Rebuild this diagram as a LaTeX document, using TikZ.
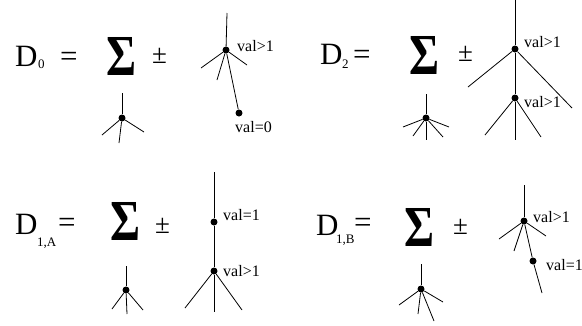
\documentclass[tikz,border=0pt]{standalone}
\usepackage{fontspec}
\setmainfont{Liberation Serif}
\usepackage{graphicx}
\usetikzlibrary{positioning}

\begin{document}
\begin{tikzpicture}[
  x=1pt, y=-1pt,
  lhs/.style={anchor=base west, inner sep=0pt, font=\fontsize{31}{31}\selectfont},
  pm/.style={anchor=base west, inner sep=0pt, font=\fontsize{27}{27}\selectfont},
  sub/.style={anchor=base west, inner sep=0pt, font=\fontsize{13}{13}\selectfont},
  bigsum/.style={inner sep=0pt},
  lbl/.style={anchor=west, inner sep=0pt, font=\fontsize{16}{16}\selectfont},
  vtx/.style={circle, fill=black, inner sep=0pt, minimum size=7pt},
  twig/.style={line width=0.8pt, black}
]
\useasboundingbox (0,0) rectangle (582,325);

% D_0
\node[lhs] (d0) at (15,66) {D};
\node[sub] (d0sub) at (38,68) {0};
\node[lhs] (d0eq) at (60,66) {=};
\node[bigsum] (d0sum) at (122,56) {\resizebox*{30pt}{38pt}{\textbf{Σ}}};
\node[pm] (d0pm) at (152,63) {±};
\node[vtx] (d0s) at (122,118) {};
\coordinate (d0st) at (122,93);
\coordinate (d0sa) at (102,135);
\coordinate (d0sb) at (119,143);
\coordinate (d0sc) at (144,132);
\foreach \c in {d0st,d0sa,d0sb,d0sc} \draw[twig] (d0s) -- (\c);
\node[vtx] (d0r1) at (226,50) {};
\node[vtx] (d0r2) at (239,113) {};
\coordinate (d0rt) at (227,13);
\coordinate (d0ra) at (201,68);
\coordinate (d0rb) at (217,80);
\coordinate (d0rc) at (247,65);
\foreach \c in {d0rt,d0ra,d0rb,d0rc} \draw[twig] (d0r1) -- (\c);
\draw[twig] (d0r1) -- (d0r2);
\node[lbl] (d0l1) at (237,46) {val>1};
\node[lbl] (d0l2) at (235,127) {val=0};

% D_2
\node[lhs] (d2) at (320,64) {D};
\node[sub] (d2sub) at (342,68) {2};
\node[lhs] (d2eq) at (353,64) {=};
\node[bigsum] (d2sum) at (425,55) {\resizebox*{30pt}{38pt}{\textbf{Σ}}};
\node[pm] (d2pm) at (458,61) {±};
\node[vtx] (d2s) at (426,118) {};
\coordinate (d2st) at (426,94);
\coordinate (d2sa) at (403,127);
\coordinate (d2sb) at (413,136);
\coordinate (d2sc) at (426,140);
\coordinate (d2sd) at (443,137);
\coordinate (d2se) at (449,127);
\foreach \c in {d2st,d2sa,d2sb,d2sc,d2sd,d2se} \draw[twig] (d2s) -- (\c);
\node[vtx] (d2r1) at (515,49) {};
\node[vtx] (d2r2) at (515,98) {};
\coordinate (d2rt) at (515,0);
\coordinate (d2ra) at (468,87);
\coordinate (d2rb) at (572,108);
\foreach \c in {d2rt,d2ra,d2rb} \draw[twig] (d2r1) -- (\c);
\draw[twig] (d2r1) -- (d2r2);
\coordinate (d2rc) at (485,135);
\coordinate (d2rd) at (515,140);
\coordinate (d2re) at (541,137);
\foreach \c in {d2rc,d2rd,d2re} \draw[twig] (d2r2) -- (\c);
\node[lbl] (d2l1) at (524,42) {val>1};
\node[lbl] (d2l2) at (524,102) {val>1};

% D_{1,A}
\node[lhs] (d1a) at (15,234) {D};
\node[sub] (d1asub) at (37,246) {1,A};
\node[lhs] (d1aeq) at (58,232) {=};
\node[bigsum] (d1asum) at (126,221) {\resizebox*{30pt}{38pt}{\textbf{Σ}}};
\node[pm] (d1apm) at (155,233) {±};
\node[vtx] (d1as) at (126,290) {};
\coordinate (d1ast) at (126,266);
\coordinate (d1asa) at (112,309);
\coordinate (d1asb) at (127,314);
\coordinate (d1asc) at (143,310);
\foreach \c in {d1ast,d1asa,d1asb,d1asc} \draw[twig] (d1as) -- (\c);
\node[vtx] (d1ar1) at (214,222) {};
\node[vtx] (d1ar2) at (214,271) {};
\coordinate (d1art) at (214,172);
\draw[twig] (d1ar1) -- (d1art);
\draw[twig] (d1ar1) -- (d1ar2);
\coordinate (d1ara) at (185,308);
\coordinate (d1arb) at (214,312);
\coordinate (d1arc) at (242,310);
\foreach \c in {d1ara,d1arb,d1arc} \draw[twig] (d1ar2) -- (\c);
\node[lbl] (d1al1) at (223,215) {val=1};
\node[lbl] (d1al2) at (223,271) {val>1};

% D_{1,B}
\node[lhs] (d1b) at (316,235) {D};
\node[sub] (d1bsub) at (336,243) {1,B};
\node[lhs] (d1beq) at (354,232) {=};
\node[bigsum] (d1bsum) at (419,227) {\resizebox*{30pt}{38pt}{\textbf{Σ}}};
\node[pm] (d1bpm) at (453,234) {±};
\node[vtx] (d1bs) at (421,289) {};
\coordinate (d1bst) at (421,264);
\coordinate (d1bsa) at (399,305);
\coordinate (d1bsb) at (418,314);
\coordinate (d1bsc) at (434,321);
\coordinate (d1bsd) at (443,302);
\foreach \c in {d1bst,d1bsa,d1bsb,d1bsc,d1bsd} \draw[twig] (d1bs) -- (\c);
\node[vtx] (d1br1) at (524,221) {};
\node[vtx] (d1br2) at (533,261) {};
\coordinate (d1brt) at (524,185);
\coordinate (d1bra) at (499,239);
\coordinate (d1brb) at (514,251);
\coordinate (d1brc) at (546,236);
\foreach \c in {d1brt,d1bra,d1brb,d1brc} \draw[twig] (d1br1) -- (\c);
\coordinate (d1brd) at (542,293);
\draw[twig] (d1br1) -- (d1br2) -- (d1brd);
\node[lbl] (d1bl1) at (533,217) {val>1};
\node[lbl] (d1bl2) at (546,265) {val=1};
\end{tikzpicture}
\end{document}
